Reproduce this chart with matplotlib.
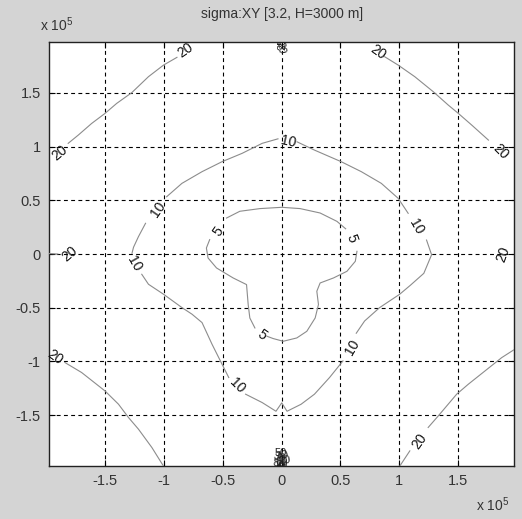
import numpy as np
import matplotlib
matplotlib.use("Agg")
import matplotlib.pyplot as plt

# ---- data (coordinates in units of 1e5 m) ----
nan = np.nan
title = "sigma:XY [3.2, H=3000 m]"
ticks = [-1.5, -1, -0.5, 0, 0.5, 1, 1.5]
tick_labels = ["-1.5", "-1", "-0.5", "0", "0.5", "1", "1.5"]
lim = 1.975

# level 20 contour pieces (nan = break for inline label)
c20_tl_x = [-0.746, nan, -0.888, -1.002, -1.130, -1.272, -1.400, -1.499, -1.613, -1.726, -1.812, nan, -1.982]
c20_tl_y = [1.962, nan, 1.832, 1.760, 1.652, 1.503, 1.403, 1.310, 1.216, 1.108, 1.031, nan, 0.875]
c20_tr_x = [0.754, nan, 0.876, 0.991, 1.132, 1.289, 1.417, 1.502, 1.616, 1.758, nan, 1.982]
c20_tr_y = [1.962, nan, 1.838, 1.760, 1.652, 1.512, 1.387, 1.310, 1.201, 1.061, nan, 0.860]
c20_bl_x = [-1.982, nan, -1.840, -1.698, -1.499, -1.385, -1.300, -1.215, -1.101, -1.002]
c20_bl_y = [-0.925, nan, -1.011, -1.104, -1.276, -1.399, -1.523, -1.632, -1.803, -1.977]
c20_br_x = [1.004, 1.090, nan, 1.246, 1.332, 1.488, 1.587, 1.729, 1.871, 1.982]
c20_br_y = [-1.977, -1.834, nan, -1.616, -1.508, -1.306, -1.213, -1.089, -0.965, -0.887]
c20_l_x = [-1.982, -1.90]
c20_l_y = [0.005, 0.0]

# level 10 contour (closed)
c10_x = [0.132, 0.280, 0.507, 0.678, 0.848, 0.991, 1.076, nan, 1.232, 1.275, 1.209, 1.095,
         1.004, 0.834, 0.706, 0.635, nan, 0.522, 0.408, 0.280, 0.166, 0.047, 0.002, -0.047,
         -0.164, -0.305, nan, -0.448, -0.505, -0.590, -0.675, -0.760, -0.846, -1.002, -1.130,
         -1.187, nan, -1.270, -1.257, -1.215, -1.155, nan, -0.976, -0.846, -0.675, -0.505,
         -0.334, -0.164, -0.030]
c10_y = [1.045, 0.968, 0.860, 0.767, 0.658, 0.519, 0.379, nan, 0.130, -0.007, -0.180, -0.291,
         -0.375, -0.499, -0.624, -0.738, nan, -0.996, -1.151, -1.306, -1.400, -1.465, -1.387, -1.465,
         -1.384, -1.306, nan, -1.151, -1.027, -0.841, -0.639, -0.561, -0.499, -0.375, -0.282,
         -0.189, nan, 0.007, 0.063, 0.162, 0.286, nan, 0.533, 0.658, 0.767, 0.860,
         0.938, 1.031, 1.073]

# level 5 contour (closed)
c5_x = [-0.467, -0.354, -0.183, 0.002, 0.158, 0.328, 0.471, 0.545, nan, 0.641, 0.627, 0.556,
        0.442, 0.328, 0.300, 0.314, 0.286, 0.215, 0.130, 0.015, -0.070, -0.124, nan, -0.226,
        -0.269, -0.283, -0.297, -0.411, -0.552, -0.624, -0.638, -0.610]
c5_y = [0.335, 0.398, 0.423, 0.435, 0.423, 0.382, 0.304, 0.235, nan, 0.025, -0.068, -0.161,
        -0.223, -0.270, -0.347, -0.471, -0.596, -0.720, -0.782, -0.813, -0.788, -0.766, nan, -0.689,
        -0.596, -0.471, -0.285, -0.223, -0.130, -0.037, 0.056, 0.134]

# contour labels: x, y, text, rotation
lab_x = [-0.817, -1.882, 0.820, 1.857, -1.925, 1.175, -1.80, 1.88,
         0.062, 1.147, 0.601, -0.377, -1.249, -1.049,
         -0.539, 0.598, -0.169]
lab_y = [1.899, 0.938, 1.884, 0.953, -0.965, -1.741, 0.0, 0.0,
         1.045, 0.255, -0.869, -1.229, -0.087, 0.416,
         0.211, 0.149, -0.750]
lab_t = ["20", "20", "20", "20", "20", "20", "20", "20",
         "10", "10", "10", "10", "10", "10",
         "5", "5", "5"]
lab_r = [35, 40, -35, -45, -35, 55, 40, 70,
         -12, -60, 60, -45, -60, 55,
         55, -70, -35]

# crowded labels at top/bottom centre
top_x = [-0.005, 0.01]
top_y = [1.92, 1.955]
top_t = ["20", "25"]
top_r = [-80, 90]
bot_x = [-0.01, 0.015, -0.015, 0.02, 0.0, -0.02, 0.01, -0.005]
bot_y = [-1.855, -1.88, -1.9, -1.92, -1.935, -1.95, -1.965, -1.975]
bot_t = ["50", "40", "30", "20", "60", "80", "25", "35"]
bot_r = [0, 15, -15, 5, 0, -5, 90, -90]

# ---- plot ----
bg = "#d4d4d4"
fig = plt.figure(figsize=(5.22, 5.19), dpi=100, facecolor=bg)
ax = fig.add_axes([49/522, 53/519, 465/522, 424/519])
ax.set_facecolor("white")
ax.set_xlim(-lim, lim)
ax.set_ylim(-lim, lim)

lc = "#8c8c8c"
for xs, ys in [(c20_tl_x, c20_tl_y), (c20_tr_x, c20_tr_y), (c20_bl_x, c20_bl_y),
               (c20_br_x, c20_br_y), (c20_l_x, c20_l_y), (c10_x, c10_y), (c5_x, c5_y)]:
    ax.plot(xs, ys, color=lc, lw=0.8, zorder=3)

font = "Liberation Sans"
for x, y, t, r in zip(lab_x, lab_y, lab_t, lab_r):
    ax.text(x, y, t, rotation=r, ha="center", va="center", fontsize=10,
            family=font, color="#111111", zorder=4, rotation_mode="anchor")
for x, y, t, r in zip(top_x, top_y, top_t, top_r):
    ax.text(x, y, t, rotation=r, ha="center", va="center", fontsize=8,
            family=font, color="#222222", zorder=4, clip_on=True)
for x, y, t, r in zip(bot_x, bot_y, bot_t, bot_r):
    ax.text(x, y, t, rotation=r, ha="center", va="center", fontsize=8,
            family=font, color="#222222", zorder=4, clip_on=True)

ax.set_xticks(ticks)
ax.set_xticklabels(tick_labels)
ax.set_yticks(ticks)
ax.set_yticklabels(tick_labels)
ax.tick_params(direction="in", length=4, width=0.8, top=True, right=True,
               labelsize=10.5, colors="#000000", labelcolor="#333333", pad=6)
for lbl in ax.get_xticklabels() + ax.get_yticklabels():
    lbl.set_family(font)
ax.grid(True, color="black", linestyle=(0, (3.5, 3)), linewidth=0.8)
ax.set_axisbelow(True)
for s in ax.spines.values():
    s.set_linewidth(1.0)
    s.set_color("#222222")

matplotlib.rcParams["mathtext.fontset"] = "custom"
matplotlib.rcParams["mathtext.rm"] = font
fig.text(282/522, 1 - 14/519, title, ha="center", va="center", fontsize=10,
         family=font, color="#333333")
fig.text(40/522, 1 - 25/519, r"x 10$^{\mathrm{5}}$", ha="left", va="center",
         fontsize=10, family=font, color="#333333")
fig.text(476/522, 1 - 505/519, r"x 10$^{\mathrm{5}}$", ha="left", va="center",
         fontsize=10, family=font, color="#333333")

fig.savefig("out.png", dpi=100, facecolor=bg)
